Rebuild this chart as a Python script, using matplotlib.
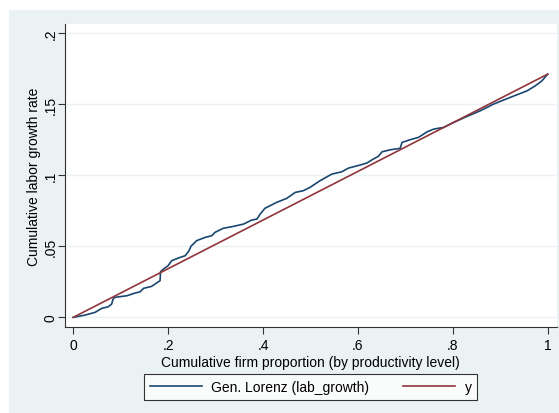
import numpy as np
import matplotlib.pyplot as plt
from matplotlib.patches import Rectangle

plt.rcParams['font.family'] = ['Liberation Sans', 'DejaVu Sans']

# generalized Lorenz curve of labour growth, firms ranked by productivity
firm_share = [0.0, 0.025, 0.046, 0.060, 0.074, 0.081, 0.084, 0.088, 0.113, 0.130,
              0.141, 0.148, 0.165, 0.183, 0.184, 0.190, 0.200, 0.2075, 0.225, 0.236,
              0.244, 0.248, 0.260, 0.278, 0.292, 0.299, 0.316, 0.338, 0.359, 0.376,
              0.387, 0.394, 0.404, 0.429, 0.450, 0.468, 0.485, 0.499, 0.520, 0.545,
              0.566, 0.580, 0.605, 0.619, 0.630, 0.643, 0.651, 0.668, 0.689, 0.693,
              0.710, 0.728, 0.746, 0.760, 0.781, 0.802, 0.830, 0.858, 0.886, 0.921,
              0.957, 0.974, 0.988, 1.0]
cum_growth = [0.0, 0.0016, 0.0035, 0.0063, 0.0075, 0.0094, 0.0129, 0.0141, 0.0152, 0.0171,
              0.0180, 0.0204, 0.0218, 0.0258, 0.0321, 0.0340, 0.0364, 0.0399, 0.0422, 0.0434,
              0.0469, 0.0500, 0.0540, 0.0563, 0.0575, 0.0599, 0.0627, 0.0641, 0.0657, 0.0685,
              0.0692, 0.0727, 0.0768, 0.0810, 0.0838, 0.0880, 0.0892, 0.0915, 0.0962, 0.1009,
              0.1025, 0.1051, 0.1073, 0.1087, 0.1110, 0.1134, 0.1166, 0.1180, 0.1190, 0.1232,
              0.1251, 0.1268, 0.1307, 0.1326, 0.1338, 0.1373, 0.1415, 0.1455, 0.1502, 0.1549,
              0.1596, 0.1631, 0.1666, 0.1713]
line_x = [0.0, 1.0]
line_y = [0.0, 0.1713]

xticks = [0, 0.2, 0.4, 0.6, 0.8, 1.0]
xtick_labels = ['0', '.2', '.4', '.6', '.8', '1']
yticks = [0, 0.05, 0.1, 0.15, 0.2]
ytick_labels = ['0', '.05', '.1', '.15', '.2']

bg = '#eaf2f3'
fs = 10
W, H = 559, 414
fig = plt.figure(figsize=(W / 100, H / 100), dpi=100)
fig.patch.set_facecolor('white')
fig.patches.append(Rectangle((9 / W, 0), 1, 1 - 11 / H, transform=fig.transFigure,
                             facecolor=bg, edgecolor='none', zorder=-10))

ax = fig.add_axes([64.7 / W, (H - 328) / H, (556.7 - 64.7) / W, (328 - 25) / H])
ax.set_facecolor('white')
ax.plot(firm_share, cum_growth, color='#1a476f', lw=1.2, label='Gen. Lorenz (lab_growth)')
ax.plot(line_x, line_y, color='#90353b', lw=1.2, label='y')

ax.set_xlim(-0.018, 1.019)
ax.set_ylim(-0.0068, 0.2066)
ax.set_xticks(xticks, xtick_labels)
ax.set_yticks(yticks, ytick_labels)
ax.tick_params(axis='y', labelrotation=90, length=5, width=0.8, color='#333333',
               labelsize=fs, pad=0)
ax.tick_params(axis='x', length=5, width=0.8, color='#333333', labelsize=fs, pad=3)
for lab in ax.get_yticklabels():
    lab.set_va('center')
ax.grid(axis='y', color=bg, lw=1)
ax.set_axisbelow(True)
for side in ['top', 'right']:
    ax.spines[side].set_visible(False)
for side in ['left', 'bottom']:
    ax.spines[side].set_color('#333333')
    ax.spines[side].set_linewidth(0.8)

ax.set_xlabel('Cumulative firm proportion (by productivity level)', fontsize=fs, labelpad=2)
ax.set_ylabel('Cumulative labor growth rate', fontsize=fs, labelpad=2)

leg = fig.legend(loc='center', bbox_to_anchor=(310.5 / W, 1 - 388 / H), ncol=2,
                 fontsize=fs, frameon=True, fancybox=False, edgecolor='black',
                 handlelength=3.8, columnspacing=2.4, handletextpad=0.65,
                 borderpad=0.4)
leg.get_frame().set_linewidth(0.8)

fig.savefig('out.png', dpi=100, facecolor=fig.get_facecolor())
